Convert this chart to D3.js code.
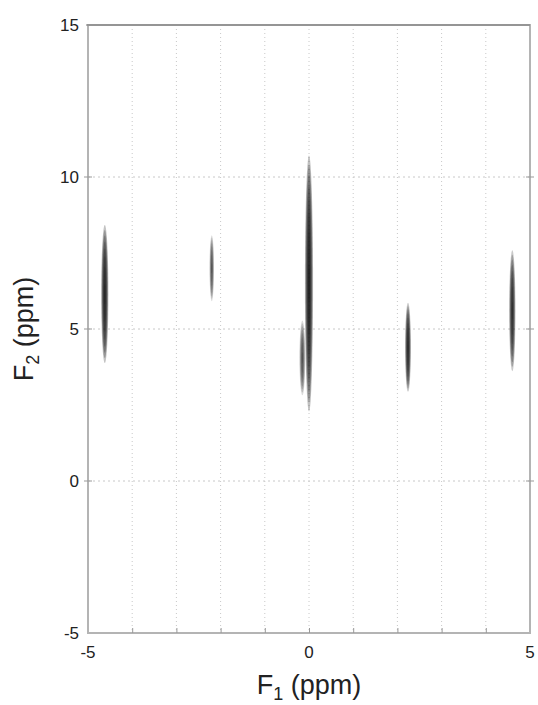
<!DOCTYPE html>
<html lang='en'>
<head>
  <meta charset='utf-8'>
  <script src="https://d3js.org/d3.v7.min.js"></script>
  <style>
    body { margin: 0; background: #fff; }
    text { font-family: "Liberation Sans", Arial, sans-serif; fill: #222; }
  </style>
</head>
<body>
  <div id="my_dataviz"></div>
  <script>
    // peak list (ppm)
    const peakF1 = [-4.62, -2.2, 0.0, -0.15, 2.24, 4.6];
    const peakF2 = [6.15, 7.0, 6.5, 4.05, 4.4, 5.6];
    const peakW = [0.08, 0.05, 0.09, 0.065, 0.065, 0.07];  // half width in F1
    const peakH = [2.4, 1.15, 4.45, 1.3, 1.55, 2.1];       // half height in F2
    const peakI = [1.0, 0.6, 1.05, 0.6, 0.95, 0.9];        // darkness
    const xTicks = [-5, 0, 5];
    const yTicks = [-5, 0, 5, 10, 15];
    const xGrid = [-4, -3, -2, -1, 0, 1, 2, 3, 4];
    const yGrid = [0, 5, 10];

    const margin = {top: 25, right: 8, bottom: 72, left: 88},
          width = 538 - margin.left - margin.right,
          height = 705 - margin.top - margin.bottom;

    const svg = d3.select("#my_dataviz")
      .append("svg")
      .attr("width", 538)
      .attr("height", 705)
      .append("g")
      .attr("transform", `translate(${margin.left}, ${margin.top})`);

    const x = d3.scaleLinear().domain([-5, 5]).range([0, width]);
    const y = d3.scaleLinear().domain([-5, 15]).range([height, 0]);
    const fmt = d => String(d);   // plain hyphen like the original

    // dotted grid
    svg.append("g").selectAll("line").data(xGrid).join("line")
      .attr("x1", d => x(d)).attr("x2", d => x(d))
      .attr("y1", 0).attr("y2", height)
      .attr("stroke", "#c8c8c8").attr("stroke-dasharray", "1,3");
    svg.append("g").selectAll("line").data(yGrid).join("line")
      .attr("x1", 0).attr("x2", width)
      .attr("y1", d => y(d)).attr("y2", d => y(d))
      .attr("stroke", "#c8c8c8").attr("stroke-dasharray", "2,3");

    // peaks as stacked contour ellipses
    const levels = d3.range(1, 9).map(i => i / 8);
    const peaks = peakF1.map((f, i) => ({f1: f, f2: peakF2[i], w: peakW[i], h: peakH[i], k: peakI[i]}));
    peaks.forEach(p => {
      svg.append("g").selectAll("ellipse").data(levels).join("ellipse")
        .attr("cx", x(p.f1))
        .attr("cy", y(p.f2))
        .attr("rx", l => Math.max(0.6, x(p.f1 + p.w * (1.15 - l)) - x(p.f1)))
        .attr("ry", l => y(p.f2 - p.h * Math.sqrt(1.02 - l)) - y(p.f2))
        .attr("fill", "#111")
        .attr("fill-opacity", 0.25 * p.k)
        .attr("stroke", "none");
    });

    // frame
    svg.append("rect")
      .attr("x", 0).attr("y", 0).attr("width", width).attr("height", height)
      .attr("fill", "none").attr("stroke", "#b4b4b4").attr("stroke-width", 2);
    svg.append("line").attr("x1", -2).attr("x2", width).attr("y1", 0).attr("y2", 0)
      .attr("stroke", "#777").attr("stroke-width", 1);

    // bottom axis: ticks each ppm, labels at -5, 0, 5
    const xAxis = svg.append("g")
      .attr("transform", `translate(0, ${height})`)
      .call(d3.axisBottom(x).tickValues(xGrid).tickSize(-5).tickFormat(""));
    xAxis.select(".domain").remove();
    xAxis.selectAll("line").attr("stroke", "#999");
    svg.append("g").selectAll("text").data(xTicks).join("text")
      .attr("x", d => x(d)).attr("y", height + 25)
      .attr("text-anchor", "middle")
      .style("font-size", "17px")
      .text(fmt);

    // left axis labels
    const yAxis = svg.append("g")
      .call(d3.axisLeft(y).tickValues(yTicks).tickSize(0).tickPadding(9).tickFormat(fmt));
    yAxis.select(".domain").remove();
    yAxis.selectAll("text").style("font-size", "17px").attr("fill", "#222");
    svg.append("g").selectAll("line").data(yGrid).join("line")
      .attr("x1", -4).attr("x2", 4).attr("y1", d => y(d)).attr("y2", d => y(d))
      .attr("stroke", "#999");
    svg.append("g").selectAll("line").data(yGrid).join("line")
      .attr("x1", width - 4).attr("x2", width + 4).attr("y1", d => y(d)).attr("y2", d => y(d))
      .attr("stroke", "#999");

    // axis titles
    const xl = svg.append("text")
      .attr("x", x(0)).attr("y", height + 61)
      .attr("text-anchor", "middle")
      .style("font-size", "27px");
    xl.append("tspan").text("F");
    xl.append("tspan").attr("dy", 6).style("font-size", "18px").text("1");
    xl.append("tspan").attr("dy", -6).text(" (ppm)");

    const yl = svg.append("text")
      .attr("transform", `translate(-55, ${y(5)}) rotate(-90)`)
      .attr("text-anchor", "middle")
      .style("font-size", "27px");
    yl.append("tspan").text("F");
    yl.append("tspan").attr("dy", 6).style("font-size", "18px").text("2");
    yl.append("tspan").attr("dy", -6).text(" (ppm)");
  </script>
</body>
</html>
